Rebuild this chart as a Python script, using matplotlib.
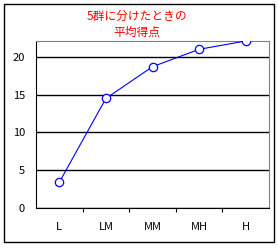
import matplotlib
matplotlib.use('Agg')
from matplotlib import pyplot as plt
from matplotlib.patches import Rectangle

plt.rcParams['font.family'] = ['Noto Sans CJK JP', 'DejaVu Sans']

groups = ['L', 'LM', 'MM', 'MH', 'H']
scores = [3.4, 14.5, 18.7, 21.0, 22.1]
yticks = [0, 5, 10, 15, 20]
title = '5群に分けたときの\n平均得点'

fig = plt.figure(figsize=(2.78, 2.48), dpi=100)
ax = fig.add_axes([36 / 278, 40 / 248, 233 / 278, 167 / 248])

# outer chart border
fig.patches.append(Rectangle((4 / 278, 6 / 248), 270 / 278, 238 / 248, transform=fig.transFigure,
                             fill=False, edgecolor='black', linewidth=1))

x = range(len(groups))
ax.plot(x, scores, color='#0000ff', linewidth=0.8, marker='o', markersize=6,
        markerfacecolor='white', markeredgecolor='#0000ff', markeredgewidth=0.9, zorder=3)

ax.set_xlim(-0.5, len(groups) - 0.5)
ax.set_ylim(0, 22.1)
ax.set_yticks(yticks)
ax.yaxis.grid(True, color='black', linewidth=1)
ax.set_axisbelow(True)
ax.tick_params(axis='y', length=0, labelsize=8, pad=8)

ax.set_xticks([i + 0.5 for i in range(len(groups) - 1)])
ax.set_xticks(list(x), minor=True)
ax.set_xticklabels([])
ax.set_xticklabels(groups, minor=True)
ax.tick_params(axis='x', which='major', length=3, direction='out', width=0.8)
ax.tick_params(axis='x', which='minor', length=0, labelsize=8, pad=10)

for side in ['top', 'right']:
    ax.spines[side].set_color('#808080')
ax.spines['left'].set_color('black')
ax.spines['bottom'].set_color('black')

fig.text(137 / 278, 1 - 24 / 248, title, color='red', fontsize=8.5, ha='center', va='center',
         linespacing=1.25)

fig.savefig('out.png', dpi=100)
